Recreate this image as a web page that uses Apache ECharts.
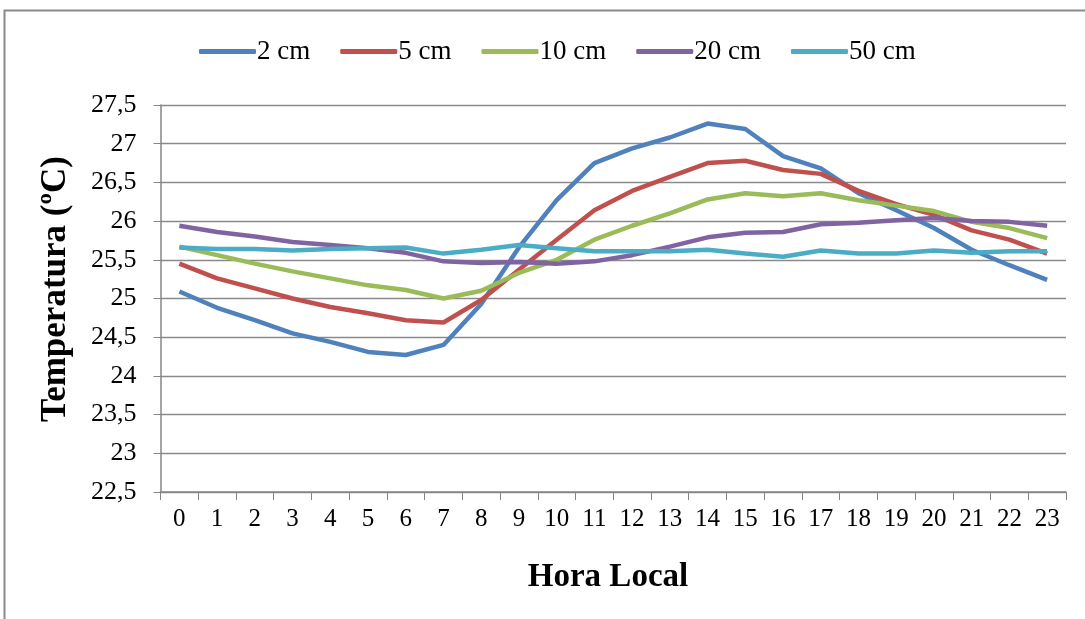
<!DOCTYPE html>
<html>
<head>
<meta charset="utf-8">
<script src="https://cdn.jsdelivr.net/npm/echarts@6/dist/echarts.min.js"></script>
<style>
html,body{margin:0;padding:0;background:#fff;}
#c{width:1085px;height:619px;}
</style>
</head>
<body>
<div id="c"></div>
<script>
const hours = ['0','1','2','3','4','5','6','7','8','9','10','11','12','13','14','15','16','17','18','19','20','21','22','23'];
const s2cm  = [25.09,24.88,24.72,24.55,24.44,24.31,24.27,24.40,24.93,25.66,26.27,26.75,26.94,27.08,27.26,27.19,26.84,26.68,26.36,26.14,25.91,25.63,25.43,25.24];
const s5cm  = [25.45,25.26,25.13,25.00,24.89,24.81,24.72,24.69,24.98,25.37,25.76,26.14,26.39,26.57,26.75,26.78,26.66,26.61,26.39,26.22,26.08,25.88,25.76,25.58];
const s10cm = [25.67,25.56,25.45,25.35,25.26,25.17,25.11,25.00,25.10,25.33,25.50,25.76,25.94,26.10,26.28,26.36,26.32,26.36,26.27,26.20,26.13,25.99,25.91,25.78];
const s20cm = [25.94,25.86,25.80,25.73,25.69,25.65,25.59,25.48,25.46,25.47,25.45,25.48,25.56,25.67,25.79,25.85,25.86,25.96,25.98,26.01,26.04,26.00,25.99,25.94];
const s50cm = [25.66,25.64,25.64,25.62,25.64,25.65,25.66,25.58,25.63,25.69,25.65,25.61,25.61,25.61,25.63,25.58,25.54,25.62,25.58,25.58,25.62,25.59,25.61,25.61];
const seriesNames = ['2 cm','5 cm','10 cm','20 cm','50 cm'];
const seriesData = [s2cm, s5cm, s10cm, s20cm, s50cm];
const colors = ['#4F81BD','#C0504D','#9BBB59','#8064A2','#4BACC6'];
const xTitle = 'Hora Local';
const yTitle = 'Temperatura (ºC)';

const chart = echarts.init(document.getElementById('c'), null, {renderer:'canvas'});
const serif = '"Liberation Serif","DejaVu Serif",serif';
chart.setOption({
  animation:false,
  color: colors,
  graphic:[
    {type:'rect',shape:{x:4.5,y:10.5,width:1200,height:800},style:{fill:'none',stroke:'#8a8a8a',lineWidth:2}},
    {type:'text',x:608,y:577,style:{text:xTitle,font:'bold 33px '+serif,fill:'#000',align:'center',verticalAlign:'middle'}},
    {type:'text',x:56,y:289,rotation:Math.PI/2,style:{text:yTitle,font:'bold 35px '+serif,fill:'#000',align:'center',verticalAlign:'middle'}}
  ],
  legend:{
    left:194, top:33, itemWidth:57, itemHeight:5, itemGap:30,
    icon:'roundRect',
    textStyle:{fontFamily:serif,fontSize:27,color:'#000',padding:[0,0,0,-4]},
    data: seriesNames
  },
  grid:{left:160.5,right:19,top:105,bottom:127},
  xAxis:{
    type:'category', data:hours, boundaryGap:true,
    axisLine:{lineStyle:{color:'#868686',width:1.5}},
    axisTick:{show:true,length:8,lineStyle:{color:'#868686'}},
    axisLabel:{fontFamily:serif,fontSize:25,color:'#000',margin:15,interval:0}
  },
  yAxis:{
    type:'value', min:22.5, max:27.5, interval:0.5,
    axisLine:{show:true,lineStyle:{color:'#868686',width:1.5}},
    axisTick:{show:true,length:7,lineStyle:{color:'#868686'}},
    splitLine:{lineStyle:{color:'#8a8a8a',width:1.3}},
    axisLabel:{fontFamily:serif,fontSize:26,color:'#000',margin:24,
      formatter:v=>String(v).replace('.',',')}
  },
  series: seriesNames.map((n,i)=>({
    name:n, type:'line', data:seriesData[i], symbol:'none', smooth:false,
    lineStyle:{width:4.5,color:colors[i]}, itemStyle:{color:colors[i]}
  }))
});
</script>
</body>
</html>
